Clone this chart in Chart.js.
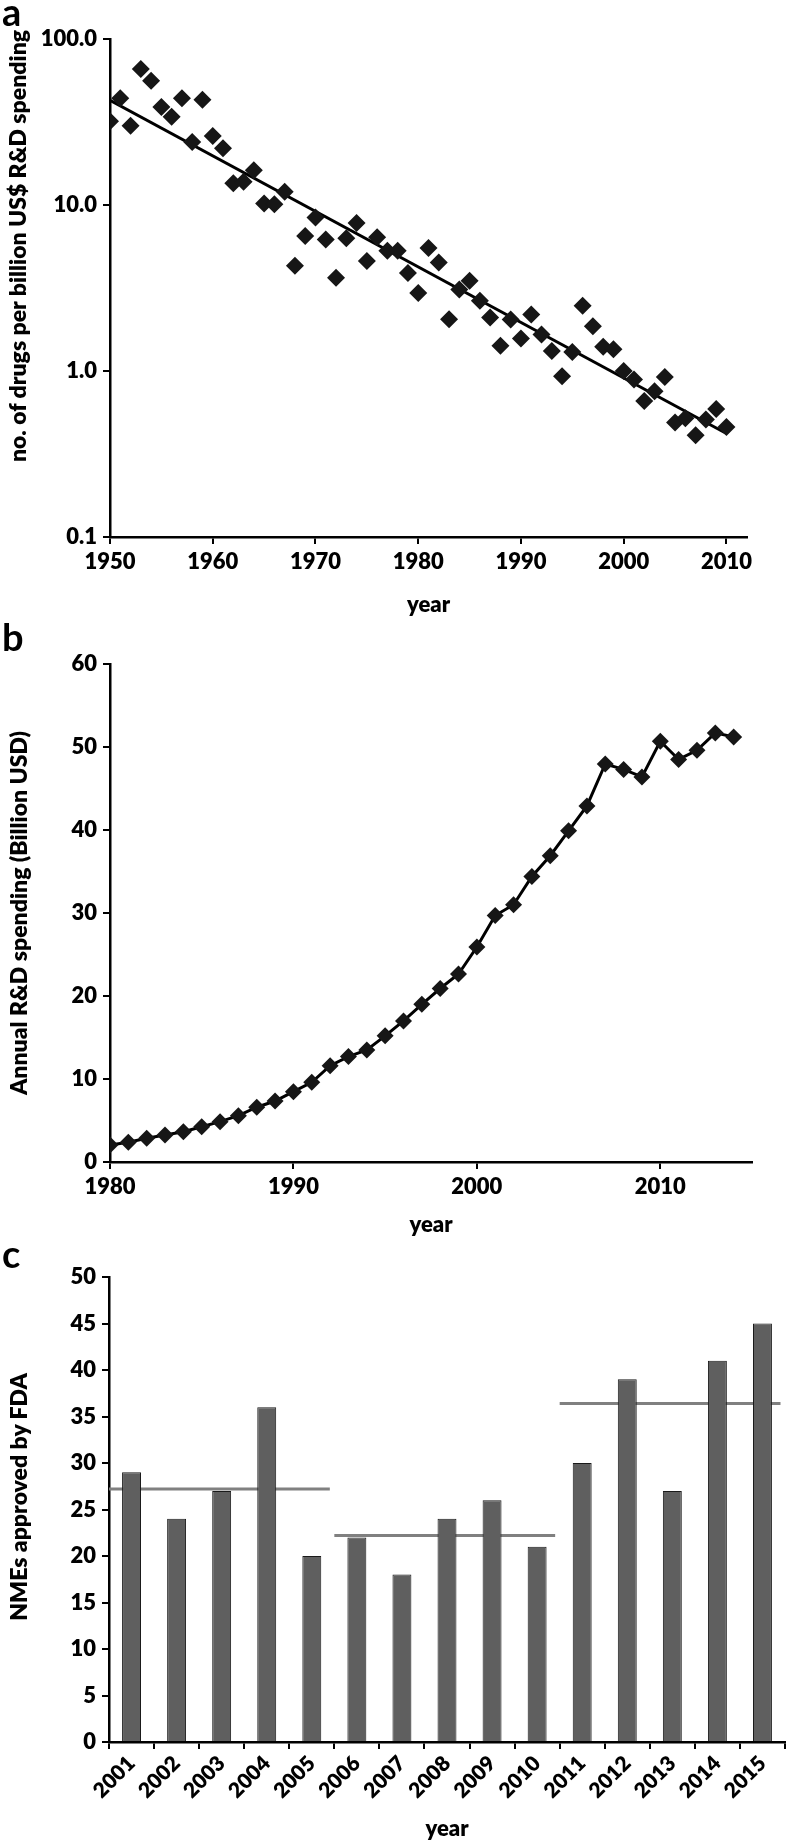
<!DOCTYPE html>
<html>
<head>
<meta charset="utf-8">
<title>Drugs per R&D spending</title>
<script src="https://cdn.jsdelivr.net/npm/chart.js@4.4.1/dist/chart.umd.min.js"></script>
<style>
  body { margin: 0; background: #fff; }
  #pagina { position: relative; width: 788px; height: 1844px; overflow: hidden; }
  #pagina canvas { position: absolute; left: 0; }
  .letra { position: absolute; left: 2px; font: bold 38px Lato, sans-serif; color: #000; line-height: 1; }
  .tituloY { position: absolute; font: 800 23px Lato, sans-serif; color: #000; white-space: nowrap;
             line-height: 1; transform: translate(-50%, -50%) rotate(-90deg); }
</style>
</head>
<body>
<div id="pagina">
  <canvas id="graficaA" width="788" height="620" style="top:0px"></canvas>
  <canvas id="graficaB" width="788" height="620" style="top:620px"></canvas>
  <canvas id="graficaC" width="788" height="604" style="top:1240px"></canvas>
  <div class="letra" style="top:-8px">a</div>
  <div class="letra" style="top:617px">b</div>
  <div class="letra" style="top:1234px">c</div>
  <div class="tituloY" style="left:17px; top:246px">no. of drugs per billion US$ R&amp;D spending</div>
  <div class="tituloY" style="left:18px; top:913px">Annual R&amp;D spending (Billion USD)</div>
  <div class="tituloY" style="left:18px; top:1497px">NMEs approved by FDA</div>
</div>
<script>
// panel a: drugs per billion US$ R&D spending (log scale)
const añosA = [1950, 1951, 1952, 1953, 1954, 1955, 1956, 1957, 1958, 1959,
  1960, 1961, 1962, 1963, 1964, 1965, 1966, 1967, 1968, 1969,
  1970, 1971, 1972, 1973, 1974, 1975, 1976, 1977, 1978, 1979,
  1980, 1981, 1982, 1983, 1984, 1985, 1986, 1987, 1988, 1989,
  1990, 1991, 1992, 1993, 1994, 1995, 1996, 1997, 1998, 1999,
  2000, 2001, 2002, 2003, 2004, 2005, 2006, 2007, 2008, 2009, 2010];
const farmacosPorBillon = [32, 44, 30, 66, 56, 39, 34, 44, 24, 43,
  26, 22, 13.5, 13.8, 16.2, 10.2, 10.1, 12, 4.3, 6.5,
  8.4, 6.2, 3.65, 6.3, 7.8, 4.6, 6.4, 5.3, 5.3, 3.9,
  2.95, 5.5, 4.5, 2.05, 3.1, 3.5, 2.65, 2.1, 1.42, 2.04,
  1.57, 2.19, 1.66, 1.32, 0.93, 1.3, 2.47, 1.86, 1.4, 1.35,
  1.0, 0.89, 0.66, 0.755, 0.92, 0.49, 0.52, 0.41, 0.51, 0.59, 0.46];
const tendenciaAños = [1950, 2010];
const tendenciaValores = [42.7, 0.42];
const ticksXA = [1950, 1960, 1970, 1980, 1990, 2000, 2010];
const ticksYA = [0.1, 1, 10, 100];

// panel b: annual R&D spending
const añosB = [1980, 1981, 1982, 1983, 1984, 1985, 1986, 1987, 1988, 1989,
  1990, 1991, 1992, 1993, 1994, 1995, 1996, 1997, 1998, 1999,
  2000, 2001, 2002, 2003, 2004, 2005, 2006, 2007, 2008, 2009,
  2010, 2011, 2012, 2013, 2014];
const gastoID = [2.05, 2.37, 2.85, 3.25, 3.65, 4.25, 4.86, 5.58, 6.6, 7.35,
  8.47, 9.6, 11.6, 12.7, 13.5, 15.2, 17.0, 19.0, 20.9, 22.65,
  25.9, 29.7, 31.0, 34.4, 36.9, 39.9, 42.9, 47.95, 47.3, 46.4,
  50.7, 48.5, 49.6, 51.7, 51.2];
const ticksXB = [1980, 1990, 2000, 2010];

// panel c: NMEs approved by FDA
const añosC = ["2001", "2002", "2003", "2004", "2005", "2006", "2007", "2008",
  "2009", "2010", "2011", "2012", "2013", "2014", "2015"];
const nmesAprobadas = [29, 24, 27, 36, 20, 22, 18, 24, 26, 21, 30, 39, 27, 41, 45];
const periodoInicio = [2001, 2006, 2011];
const periodoFin = [2005, 2010, 2015];
const mediaPeriodo = [27.2, 22.2, 36.4];

Chart.defaults.font.family = "Lato, 'DejaVu Sans', sans-serif";
Chart.defaults.font.weight = "800";
Chart.defaults.font.size = 22;
Chart.defaults.color = "#000";

const sinExtras = {
  legend: { display: false },
  tooltip: { enabled: false }
};

// axis line + outside tick marks, no grid
function ejeNegro() {
  return {
    border: { display: true, color: "#000", width: 2.5 },
    grid: { display: true, drawOnChartArea: false, drawTicks: true, tickLength: 7, color: "#000", lineWidth: 2 }
  };
}

function tituloEje(texto) {
  return { display: true, text: texto, color: "#000", font: { size: 22, weight: "800" }, padding: { top: 4, bottom: 2 } };
}

// ---------- a ----------
new Chart(document.getElementById("graficaA"), {
  type: "scatter",
  data: {
    datasets: [
      {
        data: añosA.map((a, i) => ({ x: a, y: farmacosPorBillon[i] })),
        pointStyle: "rectRot",
        pointRadius: 9,
        backgroundColor: "#161616",
        borderWidth: 0
      },
      {
        type: "line",
        data: tendenciaAños.map((a, i) => ({ x: a, y: tendenciaValores[i] })),
        borderColor: "#000",
        borderWidth: 3,
        pointRadius: 0
      }
    ]
  },
  options: {
    responsive: false,
    animation: false,
    layout: { padding: { top: 39, right: 41, bottom: 0, left: 0 } },
    plugins: sinExtras,
    scales: {
      x: {
        type: "linear", min: 1950, max: 2012,
        ...ejeNegro(),
        afterBuildTicks: (s) => { s.ticks = ticksXA.map(v => ({ value: v })); },
        afterFit: (s) => { s.height = 83; },
        ticks: { padding: 5, callback: (v) => String(v) },
        title: tituloEje("year")
      },
      y: {
        type: "logarithmic", min: 0.1, max: 100,
        ...ejeNegro(),
        afterBuildTicks: (s) => { s.ticks = ticksYA.map(v => ({ value: v })); },
        afterFit: (s) => { s.width = 110; },
        ticks: { padding: 6, callback: (v) => Number(v).toFixed(1) }
      }
    }
  }
});

// ---------- b ----------
new Chart(document.getElementById("graficaB"), {
  type: "line",
  data: {
    datasets: [{
      data: añosB.map((a, i) => ({ x: a, y: gastoID[i] })),
      borderColor: "#000",
      borderWidth: 3,
      pointStyle: "rectRot",
      pointRadius: 8.5,
      pointBackgroundColor: "#161616",
      pointBorderWidth: 0,
      tension: 0
    }]
  },
  options: {
    responsive: false,
    animation: false,
    layout: { padding: { top: 44, right: 36, bottom: 0, left: 0 } },
    plugins: sinExtras,
    scales: {
      x: {
        type: "linear", min: 1980, max: 2015,
        ...ejeNegro(),
        afterBuildTicks: (s) => { s.ticks = ticksXB.map(v => ({ value: v })); },
        afterFit: (s) => { s.height = 78; },
        ticks: { padding: 5, callback: (v) => String(v) },
        title: tituloEje("year")
      },
      y: {
        type: "linear", min: 0, max: 60,
        ...ejeNegro(),
        afterFit: (s) => { s.width = 110; },
        ticks: { stepSize: 10, padding: 6 }
      }
    }
  }
});

// ---------- c ----------
// mean of each 5-year period, drawn on a hidden linear x axis
const lineasMedia = mediaPeriodo.map((m, i) => ({
  type: "line",
  xAxisID: "xMedia",
  data: [{ x: periodoInicio[i] - 0.5, y: m }, { x: periodoFin[i] + 0.4, y: m }],
  borderColor: "#808080",
  borderWidth: 3,
  pointRadius: 0
}));

new Chart(document.getElementById("graficaC"), {
  type: "bar",
  data: {
    labels: añosC,
    datasets: [
      {
        data: nmesAprobadas,
        backgroundColor: "#5f5f5f",
        borderColor: "#1a1a1a",
        borderWidth: 1,
        grouped: false,
        categoryPercentage: 1,
        barPercentage: 0.42
      },
      ...lineasMedia
    ]
  },
  options: {
    responsive: false,
    animation: false,
    layout: { padding: { top: 37, right: 3, bottom: 0, left: 0 } },
    plugins: sinExtras,
    scales: {
      x: {
        type: "category", offset: true,
        ...ejeNegro(),
        grid: { display: true, offset: true, drawOnChartArea: false, drawTicks: true, tickLength: 7, color: "#000", lineWidth: 2 },
        afterFit: (s) => { s.height = 102; },
        ticks: { padding: 2, minRotation: 45, maxRotation: 45, autoSkip: false, font: { size: 21 } },
        title: tituloEje("year")
      },
      xMedia: {
        type: "linear", display: false, offset: false, min: 2000.5, max: 2015.5
      },
      y: {
        type: "linear", min: 0, max: 50,
        ...ejeNegro(),
        afterFit: (s) => { s.width = 109; },
        ticks: { stepSize: 5, padding: 6 }
      }
    }
  }
});
</script>
</body>
</html>
